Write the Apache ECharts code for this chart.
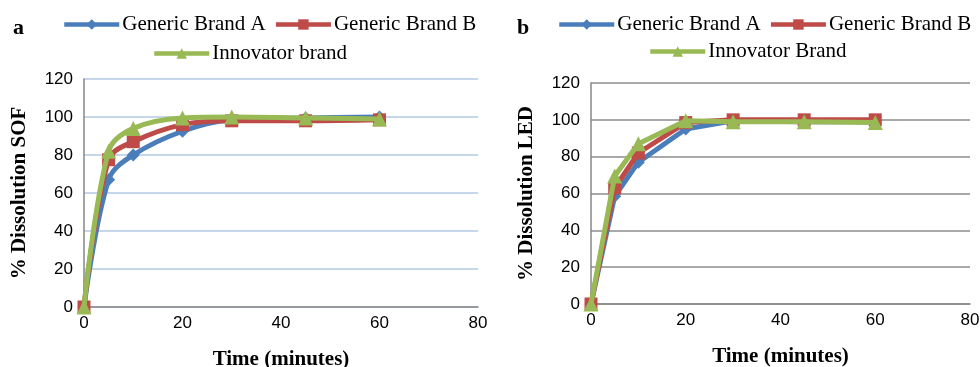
<!DOCTYPE html>
<html>
<head>
<meta charset="utf-8">
<script src="https://cdn.jsdelivr.net/npm/echarts@6/dist/echarts.min.js"></script>
<style>
html,body{margin:0;padding:0;background:#fff;}
#c{width:980px;height:367px;}
</style>
</head>
<body>
<div id="c"></div>
<script>
// ---- data ----
const times = [0, 5, 10, 20, 30, 45, 60];
const xTicks = [0, 20, 40, 60, 80];
const yTicks = [0, 20, 40, 60, 80, 100, 120];

const sofBrandA = [0, 67, 80, 92.5, 98.5, 99.5, 100];
const sofBrandB = [0, 77.5, 87, 96, 98, 98, 98.5];
const sofInnovator = [0, 82, 94, 99.5, 100, 99.5, 99];

const ledBrandA = [0, 58.5, 77, 95, 99.5, 99, 99];
const ledBrandB = [0, 63, 82, 98.5, 100, 100, 100];
const ledInnovator = [0, 69.5, 87, 99.5, 99, 99, 98.5];

const namesA = ['Generic Brand A', 'Generic Brand B', 'Innovator brand'];
const namesB = ['Generic Brand A', 'Generic Brand B', 'Innovator Brand'];
const panelLabels = ['a', 'b'];
const yTitles = ['% Dissolution SOF', '% Dissolution LED'];
const xTitle = 'Time (minutes)';

// ---- styles ----
const colors = ['#4A7EBB', '#BE4B48', '#98B954'];
const symbols = ['diamond', 'rect', 'triangle'];
const symbolSizes = [13, 13, 15];
const serif = '"Liberation Serif", "DejaVu Serif", serif';
const sans = '"Liberation Sans", Arial, sans-serif';

function pairs(vals) { return times.map((t, i) => [t, vals[i]]); }

function makeSeries(vals, idx, names, gridIdx, smooth) {
  return {
    type: 'line',
    name: names[idx],
    xAxisIndex: gridIdx,
    yAxisIndex: gridIdx,
    data: pairs(vals),
    smooth: smooth ? 0.35 : false,
    symbol: symbols[idx],
    symbolSize: symbolSizes[idx],
    showAllSymbol: true,
    lineStyle: { color: colors[idx], width: 5 },
    itemStyle: { color: colors[idx] },
    z: 2 + idx
  };
}

function xAxis(gridIdx, gap) {
  return {
    type: 'value', gridIndex: gridIdx, min: 0, max: 80, interval: 20,
    name: xTitle, nameLocation: 'middle', nameGap: gap,
    nameTextStyle: { fontFamily: serif, fontWeight: 'bold', fontSize: 21, color: '#000' },
    axisLine: { show: true, lineStyle: { color: '#868686', width: 1.5 } },
    axisTick: { show: false },
    axisLabel: { fontFamily: sans, fontSize: 17, color: '#000', margin: 8 },
    splitLine: { show: false }
  };
}

function yAxis(gridIdx, gridColor) {
  return {
    type: 'value', gridIndex: gridIdx, min: 0, max: 120, interval: 20,
    name: yTitles[gridIdx], nameLocation: 'middle', nameGap: 54,
    nameTextStyle: { fontFamily: serif, fontWeight: 'bold', fontSize: 21, color: '#000' },
    axisLine: { show: true, lineStyle: { color: '#868686', width: 1.5 } },
    axisTick: { show: false },
    axisLabel: { fontFamily: sans, fontSize: 17, color: '#000', margin: 11 },
    splitLine: { show: true, lineStyle: { color: gridColor, width: 1.5 } }
  };
}

function legend(left, top, data) {
  return {
    left: left, top: top, width: 420, orient: 'horizontal', padding: 0,
    data: data, itemWidth: 55, itemHeight: 13, itemGap: 8,
    lineStyle: { width: 4.5 },
    textStyle: { fontFamily: serif, fontSize: 21, color: '#000', padding: [0, 0, 0, -2] },
    selectedMode: false
  };
}

const chart = echarts.init(document.getElementById('c'));
chart.setOption({
  animation: false,
  backgroundColor: '#fff',
  title: [
    { text: panelLabels[0], left: 8, top: 12, textStyle: { fontFamily: serif, fontWeight: 'bold', fontSize: 22, color: '#000' } },
    { text: panelLabels[1], left: 512, top: 12, textStyle: { fontFamily: serif, fontWeight: 'bold', fontSize: 22, color: '#000' } }
  ],
  legend: [
    legend(62, 14, [namesA[0], namesA[1]]),
    legend(152, 43, [namesA[2]]),
    legend(557, 14, [namesB[0], namesB[1]]),
    legend(648, 41, [namesB[2]])
  ],
  grid: [
    { left: 84, right: 502, top: 79, bottom: 60, containLabel: false, outerBoundsMode: 'none' },
    { left: 591, right: 10, top: 83, bottom: 63, containLabel: false, outerBoundsMode: 'none' }
  ],
  xAxis: [xAxis(0, 42), xAxis(1, 42)],
  yAxis: [yAxis(0, '#B3C8E4'), yAxis(1, '#8C8C8C')],
  series: [
    makeSeries(sofBrandA, 0, namesA, 0, true),
    makeSeries(sofBrandB, 1, namesA, 0, true),
    makeSeries(sofInnovator, 2, namesA, 0, true),
    makeSeries(ledBrandA, 0, namesB, 1, false),
    makeSeries(ledBrandB, 1, namesB, 1, false),
    makeSeries(ledInnovator, 2, namesB, 1, false)
  ]
});
</script>
</body>
</html>
